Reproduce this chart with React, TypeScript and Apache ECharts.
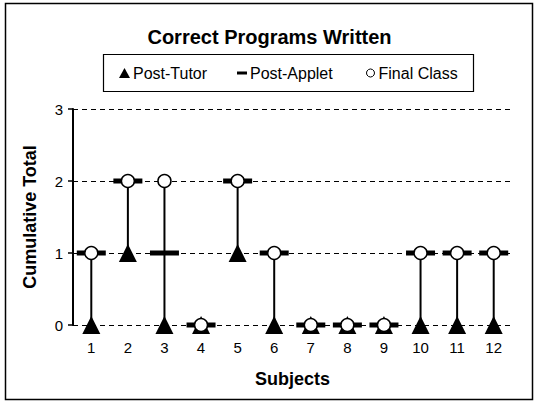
import React, { useEffect, useRef } from "react";
import * as echarts from "echarts";

const subjects = ["1", "2", "3", "4", "5", "6", "7", "8", "9", "10", "11", "12"];
const postTutor = [0, 1, 0, 0, 1, 0, 0, 0, 0, 0, 0, 0];
const postApplet = [1, 2, 1, 0, 2, 1, 0, 0, 0, 1, 1, 1];
const finalClass = [1, 2, 2, 0, 2, 1, 0, 0, 0, 1, 1, 1];
const yTicks = [0, 1, 2, 3];

const FONT = "'Liberation Sans', Arial, sans-serif";

export default function App() {
  const ref = useRef<HTMLDivElement>(null);
  useEffect(() => {
    if (!ref.current) return;
    const chart = echarts.init(ref.current, null, { renderer: "svg" });
    const ranges = subjects.map((_, i) => {
      const vals = [postTutor[i], postApplet[i], finalClass[i]];
      return [i, Math.min(...vals), Math.max(...vals)];
    });
    const legendText = { fontFamily: FONT, fontSize: 16, color: "#000", lineHeight: 18 };
    chart.setOption({
      animation: false,
      backgroundColor: "#fff",
      textStyle: { fontFamily: FONT },
      title: {
        text: "Correct Programs Written",
        left: "center",
        top: 22,
        textStyle: { fontFamily: FONT, fontSize: 20, fontWeight: "bold", color: "#000" },
      },
      graphic: [
        {
          type: "rect",
          shape: { x: 5.5, y: 3.5, width: 527, height: 396 },
          style: { fill: "none", stroke: "#000", lineWidth: 1.5 },
          silent: true,
        },
        {
          type: "rect",
          shape: { x: 103.5, y: 54.5, width: 370, height: 37 },
          style: { fill: "none", stroke: "#000", lineWidth: 1.2 },
          silent: true,
        },
      ],
      legend: [
        {
          data: [{ name: "Post-Tutor", icon: "triangle" }],
          left: 119, top: 64, padding: 0, itemWidth: 11, itemHeight: 10, itemGap: 0,
          textStyle: { ...legendText, padding: [0, 0, 0, -2] },
        },
        {
          data: [{ name: "Post-Applet", icon: "rect" }],
          left: 237, top: 64, padding: 0, itemWidth: 10, itemHeight: 3, itemGap: 0,
          textStyle: { ...legendText, padding: [0, 0, 0, -2] },
        },
        {
          data: [{ name: "Final Class", icon: "circle" }],
          left: 366, top: 64, padding: 0, itemWidth: 8, itemHeight: 8, itemGap: 0,
          itemStyle: { borderWidth: 1 },
          textStyle: { ...legendText, padding: [0, 0, 0, -1] },
        },
      ],
      grid: { left: 73, right: 27, top: 109, bottom: 79 },
      xAxis: {
        type: "category",
        data: subjects,
        name: "Subjects",
        nameLocation: "middle",
        nameGap: 45,
        nameTextStyle: { fontFamily: FONT, fontSize: 18, fontWeight: "bold", color: "#000" },
        axisLine: { show: false },
        axisTick: { show: false },
        axisLabel: { margin: 15, fontSize: 15, color: "#000", fontFamily: FONT },
      },
      yAxis: {
        type: "value",
        min: yTicks[0],
        max: yTicks[yTicks.length - 1],
        interval: 1,
        name: "Cumulative Total",
        nameLocation: "middle",
        nameGap: 34,
        nameTextStyle: { fontFamily: FONT, fontSize: 18, fontWeight: "bold", color: "#000" },
        axisLine: { show: true, lineStyle: { color: "#000", width: 2 } },
        axisTick: { show: true, length: 5, lineStyle: { color: "#000", width: 1.5 } },
        axisLabel: { margin: 10, fontSize: 15, color: "#000", fontFamily: FONT },
        splitLine: { show: true, lineStyle: { color: "#000", width: 1.2, type: [5, 4] } },
      },
      series: [
        {
          type: "custom",
          name: "range",
          data: ranges,
          encode: { x: 0, y: [1, 2] },
          renderItem: (params: any, api: any) => {
            const p1 = api.coord([api.value(0), api.value(1)]);
            const p2 = api.coord([api.value(0), api.value(2)]);
            return {
              type: "line",
              shape: { x1: p1[0], y1: p1[1], x2: p2[0], y2: p2[1] },
              style: { stroke: "#000", lineWidth: 2 },
            };
          },
          silent: true,
          z: 2,
        },
        {
          type: "scatter",
          name: "Post-Tutor",
          data: postTutor,
          symbol: "triangle",
          symbolSize: [18, 18],
          itemStyle: { color: "#000", opacity: 1 },
          z: 3,
        },
        {
          type: "scatter",
          name: "Post-Applet",
          data: postApplet,
          symbol: "rect",
          symbolSize: [29, 5],
          itemStyle: { color: "#000", opacity: 1 },
          z: 4,
        },
        {
          type: "scatter",
          name: "Final Class",
          data: finalClass,
          symbol: "circle",
          symbolSize: 13,
          itemStyle: { color: "#fff", borderColor: "#000", borderWidth: 1.5, opacity: 1 },
          z: 5,
        },
      ],
    });
    return () => chart.dispose();
  }, []);
  return <div ref={ref} style={{ width: 539, height: 404, position: "absolute", left: 0, top: 0 }} />;
}
